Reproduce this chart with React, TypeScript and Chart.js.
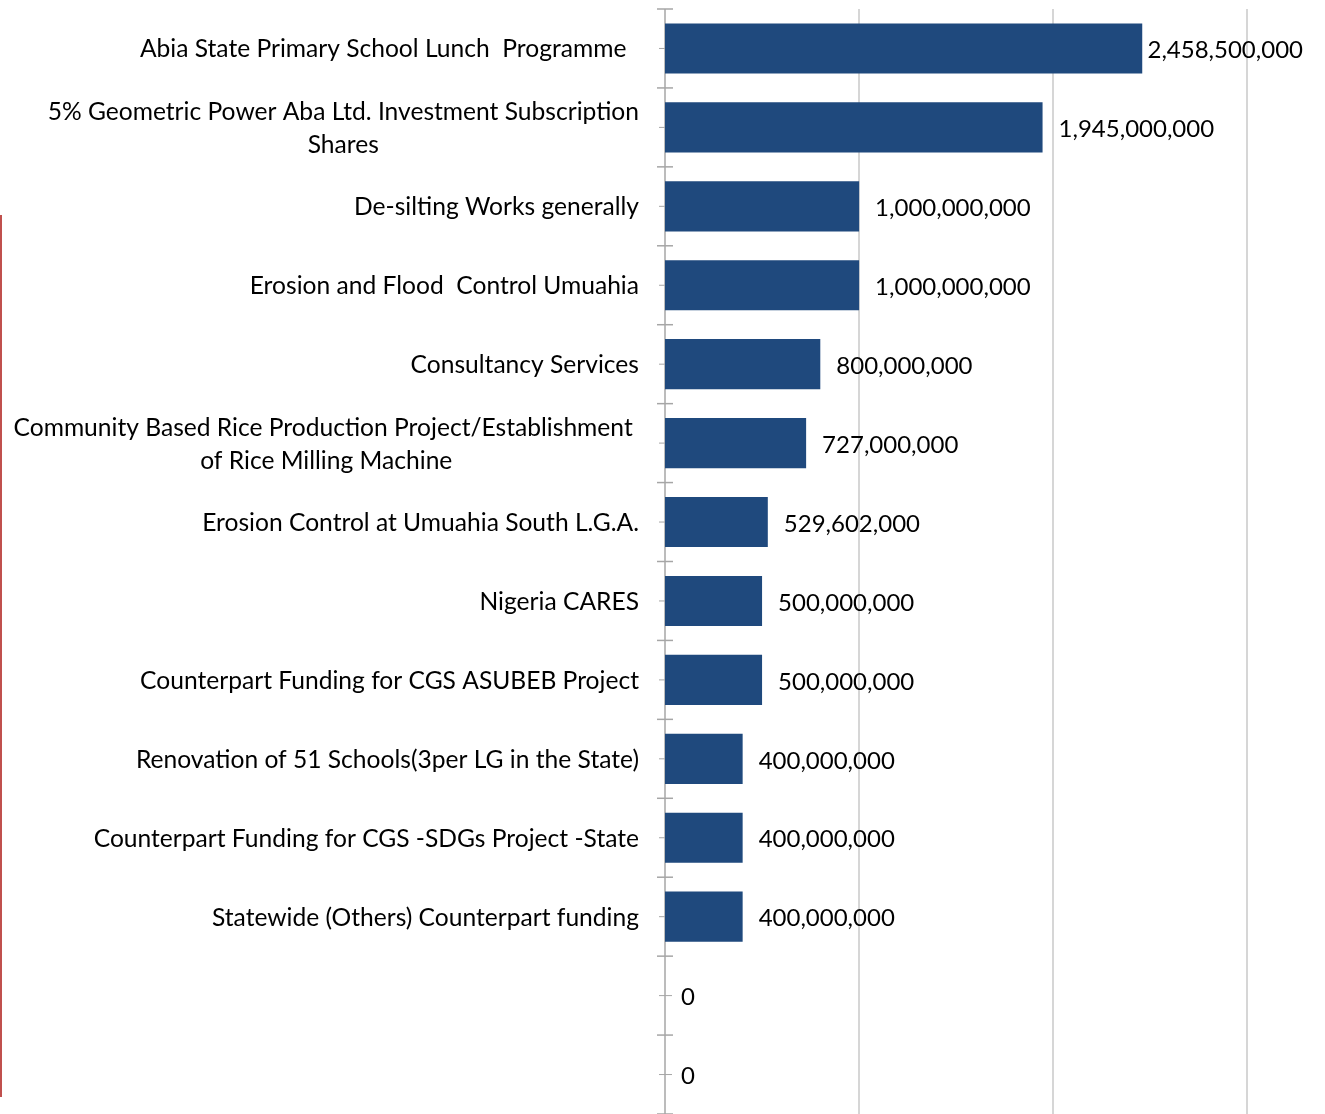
import React, { useEffect, useRef } from 'react';
import { Chart, registerables } from 'chart.js';

Chart.register(...registerables);

const categories: string[][] = [
  ['Abia State Primary School Lunch  Programme  '],
  ['5% Geometric Power Aba Ltd. Investment Subscription', 'Shares'],
  ['De-silting Works generally'],
  ['Erosion and Flood  Control Umuahia'],
  ['Consultancy Services'],
  ['Community Based Rice Production Project/Establishment ', 'of Rice Milling Machine'],
  ['Erosion Control at Umuahia South L.G.A.'],
  ['Nigeria CARES'],
  ['Counterpart Funding for CGS ASUBEB Project'],
  ['Renovation of 51 Schools(3per LG in the State)'],
  ['Counterpart Funding for CGS -SDGs Project -State'],
  ['Statewide (Others) Counterpart funding'],
  [''],
  [''],
];

const values: number[] = [
  2458500000, 1945000000, 1000000000, 1000000000, 800000000, 727000000,
  529602000, 500000000, 500000000, 400000000, 400000000, 400000000, 0, 0,
];

const gridValues: number[] = [1000000000, 2000000000, 3000000000];
const xMax = 3400000000;

const LABEL_FONT = '24.6px Lato';
const VALUE_FONT = '24px Lato';
const BAR_COLOR = '#1F497D';
const AXIS_COLOR = '#A6A6A6';
const GRID_COLOR = '#C8C8C8';

const axisPlugin = {
  id: 'axisMarks',
  beforeDatasetsDraw(chart: any) {
    const { ctx, chartArea } = chart;
    const y = chart.scales.y;
    const x = chart.scales.x;
    const x0 = chartArea.left;
    const step = y.getPixelForValue(1) - y.getPixelForValue(0);
    ctx.save();
    // vertical gridlines
    ctx.strokeStyle = GRID_COLOR;
    ctx.lineWidth = 1.5;
    gridValues.forEach((v) => {
      const gx = Math.round(x.getPixelForValue(v));
      ctx.beginPath();
      ctx.moveTo(gx, chartArea.top);
      ctx.lineTo(gx, chartArea.bottom);
      ctx.stroke();
    });
    // axis line
    ctx.strokeStyle = AXIS_COLOR;
    ctx.lineWidth = 1.5;
    ctx.beginPath();
    ctx.moveTo(x0, chartArea.top);
    ctx.lineTo(x0, chartArea.bottom);
    ctx.stroke();
    for (let i = 0; i <= categories.length; i++) {
      const yy = y.getPixelForValue(i) - step / 2;
      ctx.beginPath();
      ctx.moveTo(x0 - 8, yy);
      ctx.lineTo(x0 + 8, yy);
      ctx.stroke();
    }
    ctx.lineWidth = 1;
    for (let i = 0; i < categories.length; i++) {
      const yy = y.getPixelForValue(i);
      ctx.beginPath();
      ctx.moveTo(x0 - 6, yy);
      ctx.lineTo(x0 + 7, yy);
      ctx.stroke();
    }
    ctx.restore();
  },
};

const labelPlugin = {
  id: 'labels',
  afterDatasetsDraw(chart: any) {
    const { ctx, chartArea } = chart;
    const y = chart.scales.y;
    ctx.save();
    ctx.fillStyle = '#000000';
    ctx.textBaseline = 'middle';
    // category labels
    ctx.font = LABEL_FONT;
    const right = chartArea.left - 26;
    ctx.textAlign = 'center';
    categories.forEach((lines, i) => {
      const cy = y.getPixelForValue(i);
      const widest = Math.max(...lines.map((l) => ctx.measureText(l).width));
      const cx = right - widest / 2;
      lines.forEach((l, j) => {
        ctx.fillText(l, cx, cy + 1 + (j - (lines.length - 1) / 2) * 33);
      });
    });
    // value labels
    ctx.font = VALUE_FONT;
    ctx.textAlign = 'left';
    const meta = chart.getDatasetMeta(0);
    meta.data.forEach((bar: any, i: number) => {
      const txt = values[i].toLocaleString('en-US');
      const w = ctx.measureText(txt).width;
      let tx = bar.x + 16;
      if (tx + w > 1303) tx = 1303 - w;
      ctx.fillText(txt, tx, bar.y + 2);
    });
    ctx.restore();
  },
};

export default function App() {
  const ref = useRef<HTMLCanvasElement | null>(null);
  useEffect(() => {
    if (!ref.current) return;
    const chart = new Chart(ref.current, {
      type: 'bar',
      data: {
        labels: categories,
        datasets: [
          {
            data: values,
            backgroundColor: BAR_COLOR,
            borderWidth: 0,
            barPercentage: 0.635,
            categoryPercentage: 1,
          },
        ],
      },
      options: {
        indexAxis: 'y',
        animation: false,
        responsive: false,
        devicePixelRatio: 1,
        layout: { padding: { top: 9, left: 0, right: 0, bottom: 0 } },
        plugins: { legend: { display: false }, tooltip: { enabled: false } },
        scales: {
          x: {
            type: 'linear',
            min: 0,
            max: xMax,
            ticks: { display: false, stepSize: 1000000000 },
            border: { display: false },
            grid: { display: false, drawTicks: false },
            afterFit: (s: any) => {
              s.height = 0;
            },
          },
          y: {
            type: 'category',
            ticks: { display: false },
            grid: { display: false, drawTicks: false },
            border: { display: false },
            afterFit: (s: any) => {
              s.width = 665;
            },
          },
        },
      },
      plugins: [axisPlugin, labelPlugin],
    });
    return () => chart.destroy();
  }, []);

  return (
    <div style={{ position: 'fixed', left: 0, top: 0, width: 1325, height: 1114, background: '#fff' }}>
      <canvas ref={ref} width={1325} height={1114} style={{ width: 1325, height: 1114, display: 'block' }} />
      <div
        style={{
          position: 'absolute',
          left: 0,
          top: 215,
          width: 2,
          height: 882,
          background: '#C0504D',
        }}
      />
    </div>
  );
}
